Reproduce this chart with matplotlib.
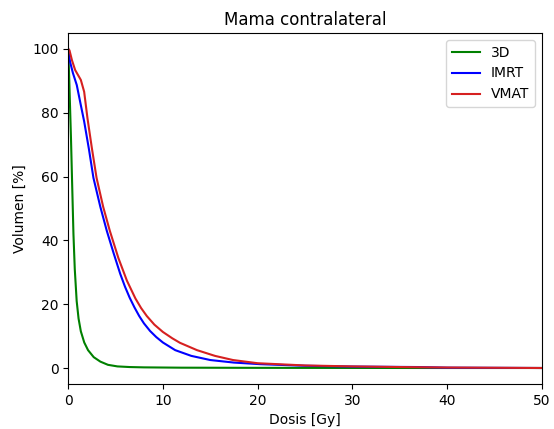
import matplotlib
matplotlib.use("Agg")
import matplotlib.pyplot as plt
import numpy as np

# dose-volume values
dose_3d = [0, 0.1, 0.2, 0.3, 0.42, 0.56, 0.7, 0.9, 1.1, 1.34, 1.7, 2.1, 2.7, 3.4, 4.2, 5.2, 6.5, 8, 12, 20, 30, 40, 50]
vol_3d = [100, 92, 82, 72, 58, 42, 31, 21, 15.5, 11.5, 8, 5.6, 3.4, 2.0, 1.0, 0.5, 0.3, 0.2, 0.1, 0.05, 0.02, 0.0, 0.0]

dose_imrt = [0, 0.2, 0.5, 0.91, 1.27, 1.69, 2.2, 2.67, 3.4, 4.08, 4.8, 5.5, 6.0, 6.5, 7.0, 7.5, 8.0, 8.65, 9.3, 10.0, 11.3, 13.0, 15, 17.5, 20.3, 25, 30, 37, 40, 50]
vol_imrt = [100, 96, 92.5, 88.7, 83.4, 77.3, 68.5, 59.6, 50.5, 43, 36, 29.5, 25.5, 22, 19, 16.3, 14, 11.6, 9.7, 8.0, 5.6, 3.8, 2.5, 1.7, 1.2, 0.7, 0.45, 0.3, 0.1, 0.0]

dose_vmat = [0, 0.14, 0.4, 0.74, 1.05, 1.34, 1.69, 2.04, 2.5, 3.0, 3.7, 4.4, 5.3, 6.2, 7.1, 7.7, 8.3, 9.1, 10.0, 11.0, 11.8, 13.6, 15.5, 17.4, 20, 25, 30, 35, 40, 50]
vol_vmat = [100, 99.6, 96.5, 93.4, 91.8, 90.3, 86.6, 78.3, 69, 59.6, 50.5, 43, 34.5, 27.4, 21.8, 18.8, 16.3, 13.6, 11.3, 9.3, 7.9, 5.6, 3.8, 2.5, 1.5, 0.8, 0.5, 0.3, 0.15, 0.0]

fig, ax = plt.subplots(figsize=(5.54, 4.29), dpi=100)

ax.plot(dose_3d, vol_3d, color="green", linewidth=1.5, label="3D")
ax.plot(dose_imrt, vol_imrt, color="blue", linewidth=1.5, label="IMRT")
ax.plot(dose_vmat, vol_vmat, color="#d62020", linewidth=1.5, label="VMAT")

ax.set_xlim(0, 50)
ax.set_ylim(-5, 105)
ax.set_xticks([0, 10, 20, 30, 40, 50])
ax.set_yticks([0, 20, 40, 60, 80, 100])
ax.set_title("Mama contralateral")
ax.set_xlabel("Dosis [Gy]")
ax.set_ylabel("Volumen [%]")
ax.legend(loc="upper right")

plt.subplots_adjust(left=0.123, right=0.978, bottom=0.105, top=0.923)
plt.savefig("out.png", dpi=100)
